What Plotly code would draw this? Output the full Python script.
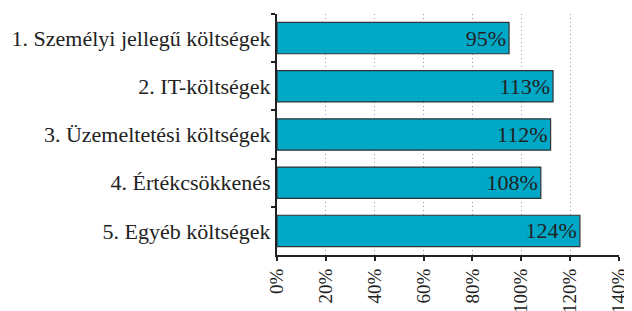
import plotly.graph_objects as go

categories = ["1. Személyi jellegű költségek", "2. IT-költségek", "3. Üzemeltetési költségek",
              "4. Értékcsökkenés", "5. Egyéb költségek"]
values = [95, 113, 112, 108, 124]
labels = ["95%", "113%", "112%", "108%", "124%"]
tick_vals = [0, 20, 40, 60, 80, 100, 120, 140]
tick_text = ["0%", "20%", "40%", "60%", "80%", "100%", "120%", "140%"]

font_family = "Liberation Serif, DejaVu Serif, serif"

fig = go.Figure(go.Bar(
    y=categories, x=values, orientation="h",
    marker=dict(color="#00A8C8", line=dict(color="#333333", width=1.2)),
    text=labels, textposition="inside", insidetextanchor="end",
    textfont=dict(family=font_family, size=22, color="#222222"),
    width=0.65,
))

# page body has an 8px margin, so the figure is offset by 8px
fig.update_layout(
    width=624, height=303,
    margin=dict(l=269, r=13, t=6, b=56),
    paper_bgcolor="white", plot_bgcolor="white",
    showlegend=False,
    font=dict(family=font_family, color="#222222"),
    xaxis=dict(range=[0, 140], tickvals=tick_vals, ticktext=tick_text, tickangle=-90,
               showgrid=True, gridcolor="#999999", griddash="1px,3px", gridwidth=1,
               showline=True, linecolor="#222222", linewidth=2,
               ticks="outside", ticklen=4, tickwidth=2, tickcolor="#222222",
               tickfont=dict(family=font_family, size=19, color="#222222"),
               zeroline=False, automargin=False),
    yaxis=dict(autorange="reversed", showline=True, linecolor="#222222", linewidth=2,
               ticks="outside", tickson="boundaries", ticklen=4, tickwidth=2, tickcolor="#222222",
               tickfont=dict(family=font_family, size=22, color="#222222"),
               showgrid=False, automargin=False),
    uniformtext=dict(mode=False),
)

fig.write_html("out.html")
